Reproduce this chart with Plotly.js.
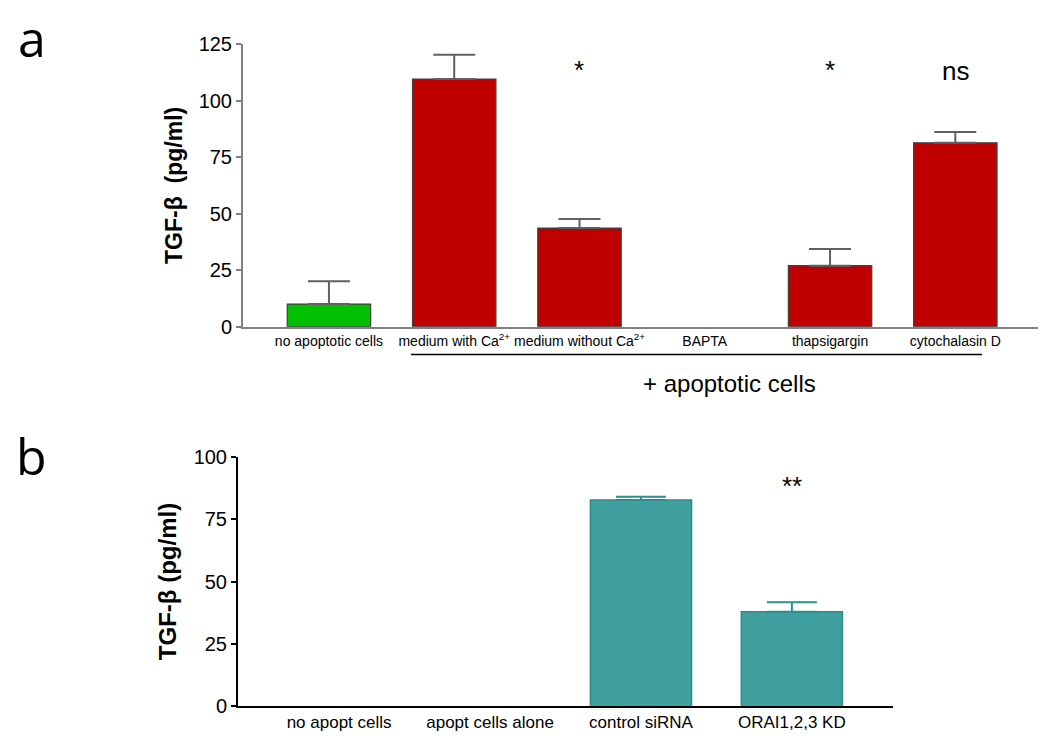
<!DOCTYPE html>
<html>
<head>
<meta charset="utf-8">
<script src="https://cdn.plot.ly/plotly-3.0.1.min.js"></script>
<style>html,body{margin:0;padding:0;background:#fff}#chart{width:1050px;height:741px}</style>
</head>
<body>
<div id="chart"></div>
<script>
// Panel a data
const catsA = ["no apoptotic cells", "medium with Ca<sup>2+</sup>", "medium without Ca<sup>2+</sup>", "BAPTA", "thapsigargin", "cytochalasin D"];
const valsA = [10.0, 109.5, 43.6, null, 27.0, 81.3];
const errA  = [10.1, 10.7, 4.0, null, 7.4, 4.8];
const colorsA = ["#00C000", "#C00000", "#C00000", "#C00000", "#C00000", "#C00000"];
const sigA = ["*", "*", "ns"];
const sigAcats = [catsA[2], catsA[4], catsA[5]];

// Panel b data
const catsB = ["no apopt cells", "apopt cells alone", "control siRNA", "ORAI1,2,3 KD"];
const valsB = [null, null, 82.8, 37.8];
const errB  = [null, null, 1.3, 3.8];
const sigB = ["**"];
const sigBcats = [catsB[3]];

const font = "'Liberation Sans', Arial, sans-serif";

const traces = [
  {
    type: "bar", x: catsA, y: valsA, xaxis: "x", yaxis: "y", width: 0.666,
    marker: {color: colorsA, line: {color: "#404040", width: 1.2}},
    error_y: {type: "data", array: errA, symmetric: false, arrayminus: errA.map(() => 0),
              color: "#606060", thickness: 2, width: 21},
    hoverinfo: "skip", showlegend: false
  },
  {
    type: "bar", x: catsB, y: valsB, xaxis: "x2", yaxis: "y2", width: 0.67,
    marker: {color: "#40A0A0", line: {color: "#2A8C8C", width: 1.5}},
    error_y: {type: "data", array: errB, symmetric: false, arrayminus: errB.map(() => 0),
              color: "#2A9090", thickness: 2, width: 25},
    hoverinfo: "skip", showlegend: false
  }
];

const annotations = [];
sigA.forEach((t, i) => annotations.push({
  xref: "x", yref: "y", x: sigAcats[i], y: t === "ns" ? 113.0 : 113.5, text: t, showarrow: false,
  xanchor: "center", yanchor: "middle",
  font: {family: font, size: 26, color: "#000"}
}));
sigB.forEach((t, i) => annotations.push({
  xref: "x2", yref: "y2", x: sigBcats[i], y: 88.5, text: t, showarrow: false,
  xanchor: "center", yanchor: "middle",
  font: {family: font, size: 26, color: "#000"}
}));
annotations.push({xref: "paper", yref: "paper", x: 729/1050, y: 1 - 383/741, text: "+ apoptotic cells",
  xanchor: "center", yanchor: "middle",
  showarrow: false, font: {family: font, size: 24, color: "#000"}});
annotations.push({xref: "paper", yref: "paper", x: 32/1050, y: 1 - 38/741, text: "a",
  xanchor: "center", yanchor: "middle",
  showarrow: false, font: {family: "'Open Sans', sans-serif", size: 50, color: "#000"}});
annotations.push({xref: "paper", yref: "paper", x: 31/1050, y: 1 - 456/741, text: "b",
  xanchor: "center", yanchor: "middle",
  showarrow: false, font: {family: "'Open Sans', sans-serif", size: 50, color: "#000"}});

const layout = {
  width: 1050, height: 741,
  margin: {l: 0, r: 0, t: 0, b: 0},
  paper_bgcolor: "#fff", plot_bgcolor: "#fff",
  showlegend: false,
  font: {family: font, color: "#000"},
  xaxis: {
    domain: [243/1050, 1038/1050], anchor: "y", type: "category",
    range: [-0.686, 5.66], showgrid: false, zeroline: false,
    showline: true, linecolor: "#808080", linewidth: 2, ticks: "", tickangle: 0,
    tickfont: {family: font, size: 14, color: "#000"}
  },
  yaxis: {
    domain: [1 - 326.7/741, 1 - 44/741], anchor: "x",
    range: [0, 125], tickvals: [0, 25, 50, 75, 100, 125], showgrid: false, zeroline: false,
    showline: true, linecolor: "#808080", linewidth: 2, ticks: "outside", ticklen: 5,
    tickcolor: "#808080", tickwidth: 2,
    tickfont: {family: font, size: 20, color: "#000"},
    title: {text: "<b>TGF-β  (pg/ml)</b>", font: {family: font, size: 23, color: "#000"}, standoff: 10}
  },
  xaxis2: {
    domain: [238/1050, 893/1050], anchor: "y2", type: "category",
    range: [-0.67, 3.67], showgrid: false, zeroline: false,
    showline: true, linecolor: "#000", linewidth: 2, ticks: "", tickangle: 0,
    tickfont: {family: font, size: 17, color: "#000"}
  },
  yaxis2: {
    domain: [1 - 705.7/741, 1 - 457.3/741], anchor: "x2",
    range: [0, 100], tickvals: [0, 25, 50, 75, 100], showgrid: false, zeroline: false,
    showline: true, linecolor: "#000", linewidth: 2, ticks: "outside", ticklen: 5,
    tickcolor: "#000", tickwidth: 2,
    tickfont: {family: font, size: 20, color: "#000"},
    title: {text: "<b>TGF-β (pg/ml)</b>", font: {family: font, size: 24, color: "#000"}, standoff: 10}
  },
  shapes: [
    {type: "line", xref: "paper", yref: "paper", x0: 411/1050, x1: 982/1050,
     y0: 1 - 354.5/741, y1: 1 - 354.5/741, line: {color: "#000", width: 1.5}}
  ],
  annotations: annotations
};

Plotly.newPlot("chart", traces, layout, {displayModeBar: false, staticPlot: true});
</script>
</body>
</html>
